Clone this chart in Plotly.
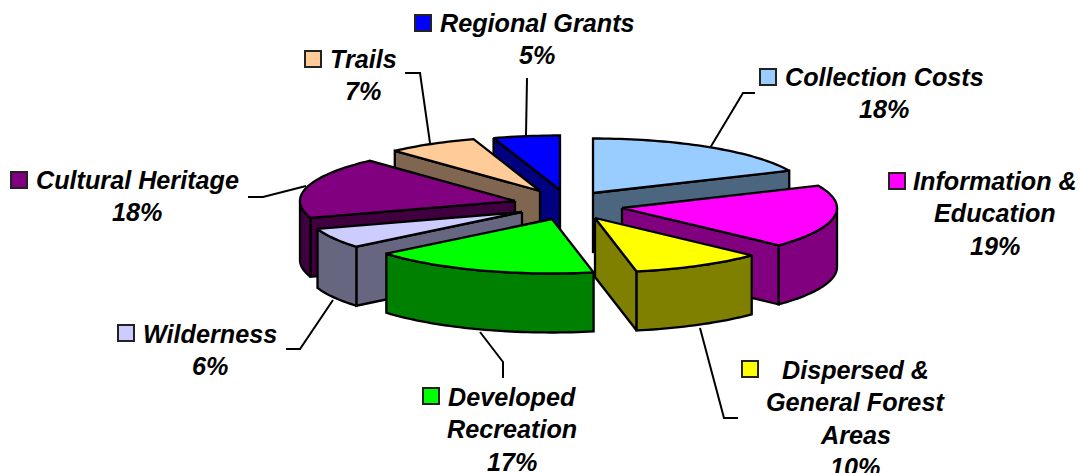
import math
import plotly.graph_objects as go

# ---- data ----
categories = ["Collection Costs", "Information & Education", "Dispersed & General Forest Areas",
              "Developed Recreation", "Wilderness", "Cultural Heritage", "Trails", "Regional Grants"]
values = [18.3, 18.7, 9.9, 17.1, 6.0, 18.2, 6.8, 5.0]
percent_labels = ["18%", "19%", "10%", "17%", "6%", "18%", "7%", "5%"]
top_colors = ["#99CCFF", "#FF00FF", "#FFFF00", "#00FF00", "#CCCCFF", "#800080", "#FFCC99", "#0000FF"]
side_colors = ["#4D6680", "#800080", "#808000", "#008000", "#666680", "#400040", "#806650", "#000080"]
label_lines = [["Collection Costs"], ["Information &", "Education"],
               ["Dispersed &", "General Forest", "Areas"], ["Developed", "Recreation"],
               ["Wilderness"], ["Cultural Heritage"], ["Trails"], ["Regional Grants"]]

# ---- layout of the drawing (pixels) ----
W, H = 1080, 473
CX, CY = 570, 205         # pie centre
RX, RY = 215, 54.5        # top ellipse semi-axes
DEPTH = 59                # extrusion
explode = [(23, -12), (52, 3), (25, 13), (-18, 14), (-48, 7), (-55, -4), (-30, -14), (-10, -15)]
paint_order = [7, 6, 0, 5, 1, 4, 2, 3]
label_pos = [(884, 77), (995, 181), (855, 370), (512, 397), (210, 334), (137, 180), (363, 59), (537, 23)]
key_pos = [(768, 77), (897, 181), (750, 369), (431, 396), (126, 333), (19, 180), (313, 59), (423, 23)]
leaders = [[(710, 148), (743, 93), (755, 93)],
           [(700, 328), (724, 418), (738, 418)],
           [(480, 332), (503, 362), (503, 378)],
           [(333, 300), (300, 349), (286, 349)],
           [(306, 186), (263, 197), (248, 197)],
           [(430, 143), (420, 73), (405, 73)],
           [(526, 135), (527, 78)]]
LINE_H = 32.3
FONT_SIZE = 25.2

fig = go.Figure()

def poly(pts, fill=None):
    xs = [p[0] for p in pts]
    ys = [p[1] for p in pts]
    fig.add_trace(go.Scatter(x=xs, y=ys, mode="lines", hoverinfo="skip", showlegend=False,
                             fill="toself" if fill else None, fillcolor=fill,
                             line=dict(color="#000000", width=2.3 if fill else 2, simplify=False)))

for leader in leaders:
    poly(leader)

# slice geometry derived from the values
total = sum(values)
bounds = []
acc = 0
for v in values:
    bounds.append((acc / total * 2 * math.pi, (acc + v) / total * 2 * math.pi))
    acc += v

def rim(ax, ay, t):
    return (ax + RX * math.sin(t), ay - RY * math.cos(t))

for i in paint_order:
    t1, t2 = bounds[i]
    ax = CX + explode[i][0]
    ay = CY + explode[i][1]
    n = max(4, int((t2 - t1) * 40))
    # radial faces that look at the viewer
    for t, visible in ((t1, math.sin(t1) < -1e-6), (t2, math.sin(t2) > 1e-6)):
        if visible:
            p = rim(ax, ay, t)
            poly([(ax, ay), p, (p[0], p[1] + DEPTH), (ax, ay + DEPTH), (ax, ay)], side_colors[i])
    # outer wall (front half only)
    a = max(t1, math.pi / 2)
    b = min(t2, 3 * math.pi / 2)
    if b > a:
        ts = [a + (b - a) * k / n for k in range(n + 1)]
        upper = [rim(ax, ay, t) for t in ts]
        lower = [(x, y + DEPTH) for x, y in reversed(upper)]
        poly(upper + lower + [upper[0]], side_colors[i])
    # top face
    ts = [t1 + (t2 - t1) * k / n for k in range(n + 1)]
    poly([(ax, ay)] + [rim(ax, ay, t) for t in ts] + [(ax, ay)], top_colors[i])

# labels and legend keys
font = dict(family="Liberation Sans", size=FONT_SIZE, color="#000000", weight="bold", style="italic")
annotations = []
shapes = []
for i, lines in enumerate(label_lines):
    x, y = label_pos[i]
    texts = lines + [percent_labels[i]]
    for k, text in enumerate(texts):
        annotations.append(dict(x=x, y=y + k * LINE_H, text=text, showarrow=False, xref="x", yref="y",
                                xanchor="center", yanchor="middle", font=font))
    kx, ky = key_pos[i]
    shapes.append(dict(type="rect", x0=kx - 8, x1=kx + 8, y0=ky - 8, y1=ky + 8, xref="x", yref="y",
                       fillcolor=top_colors[i], line=dict(color="#222222", width=2)))

fig.update_layout(width=W, height=H, margin=dict(l=0, r=0, t=0, b=0),
                  paper_bgcolor="#FFFFFF", plot_bgcolor="#FFFFFF", showlegend=False,
                  xaxis=dict(range=[0, W], visible=False, fixedrange=True),
                  yaxis=dict(range=[H, 0], visible=False, fixedrange=True),
                  annotations=annotations, shapes=shapes)
fig.write_html("out.html", config=dict(displayModeBar=False),
               post_script="document.body.style.margin='0';document.documentElement.style.overflow='hidden';")
